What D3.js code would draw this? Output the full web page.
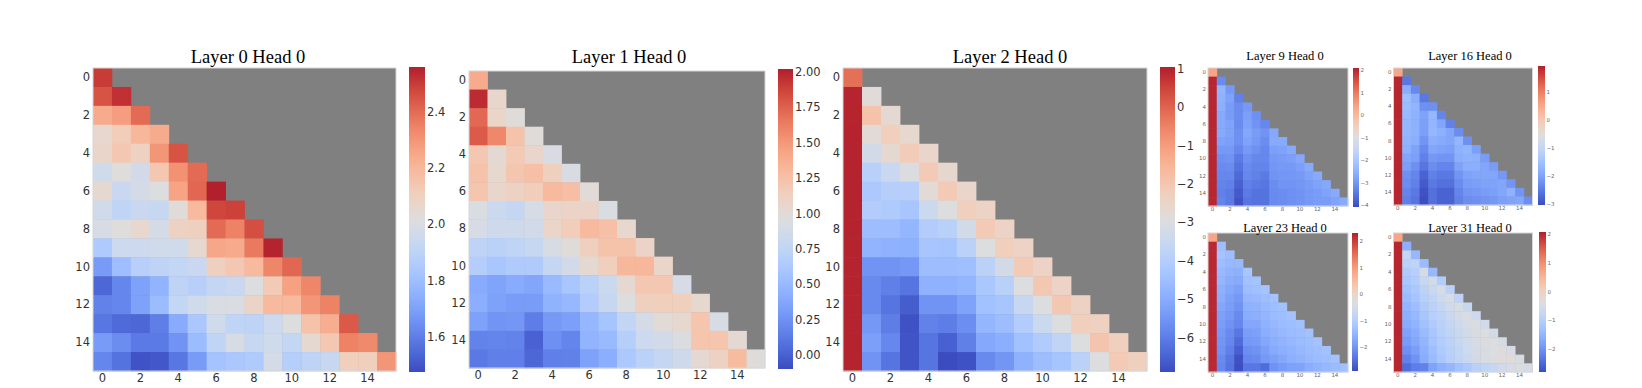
<!DOCTYPE html>
<html>
<head>
<meta charset="utf-8">
<script src="https://cdn.jsdelivr.net/npm/d3@7"></script>
<style>
  body { margin: 0; background: #fff; }
  svg { display: block; }
</style>
</head>
<body>
<div id="chart"></div>
<script>
// lower-triangle attention values, one row per query position
const layer0 = [
  [2.50],
  [2.45, 2.52],
  [2.24, 2.28, 2.40],
  [2.06, 2.12, 2.20, 2.24],
  [2.07, 2.14, 2.09, 2.30, 2.45],
  [1.96, 2.02, 1.97, 2.14, 2.31, 2.40],
  [2.05, 1.94, 1.98, 2.01, 2.26, 2.41, 2.56],
  [1.96, 1.91, 1.94, 1.93, 2.03, 2.19, 2.48, 2.49],
  [1.99, 2.02, 2.06, 1.98, 2.09, 2.10, 2.40, 2.35, 2.46],
  [1.85, 1.95, 1.95, 1.96, 1.96, 2.05, 2.25, 2.24, 2.37, 2.55],
  [1.68, 1.80, 1.88, 1.90, 1.92, 1.94, 2.10, 2.14, 2.19, 2.34, 2.41],
  [1.54, 1.62, 1.70, 1.76, 1.90, 1.88, 1.92, 1.94, 2.01, 2.13, 2.27, 2.34],
  [1.61, 1.62, 1.70, 1.79, 1.92, 1.96, 2.00, 2.00, 2.08, 2.19, 2.19, 2.30, 2.35],
  [1.58, 1.55, 1.54, 1.60, 1.73, 1.84, 1.96, 1.91, 1.90, 1.95, 2.01, 2.16, 2.23, 2.44],
  [1.68, 1.64, 1.59, 1.59, 1.66, 1.79, 1.91, 1.99, 1.93, 1.96, 1.92, 2.05, 2.14, 2.35, 2.33],
  [1.62, 1.57, 1.49, 1.50, 1.58, 1.68, 1.82, 1.84, 1.85, 1.98, 1.87, 1.90, 1.93, 2.11, 2.11, 2.30]
];
const layer1 = [
  [1.40],
  [1.97, 1.05],
  [1.72, 1.07, 0.98],
  [1.78, 1.58, 1.24, 0.98],
  [1.20, 1.02, 1.18, 1.06, 0.92],
  [1.24, 1.04, 1.21, 1.26, 1.13, 0.92],
  [1.22, 1.05, 1.10, 1.15, 1.30, 1.27, 1.00],
  [0.93, 0.82, 0.78, 0.90, 1.05, 1.08, 1.08, 0.93],
  [0.90, 0.84, 0.84, 0.87, 1.07, 1.16, 1.30, 1.26, 1.04],
  [0.74, 0.71, 0.75, 0.79, 0.91, 0.98, 1.13, 1.24, 1.24, 1.08],
  [0.67, 0.60, 0.64, 0.64, 0.78, 0.87, 1.03, 1.14, 1.32, 1.32, 1.07],
  [0.40, 0.36, 0.40, 0.37, 0.50, 0.60, 0.71, 0.82, 1.03, 1.20, 1.20, 0.90],
  [0.42, 0.34, 0.31, 0.31, 0.45, 0.49, 0.66, 0.80, 0.95, 1.13, 1.14, 1.14, 1.04],
  [0.34, 0.27, 0.28, 0.14, 0.29, 0.33, 0.48, 0.58, 0.76, 0.89, 1.00, 1.04, 1.22, 0.91],
  [0.17, 0.18, 0.17, 0.00, 0.24, 0.18, 0.46, 0.50, 0.68, 0.83, 0.87, 0.94, 1.22, 1.22, 1.02],
  [0.12, 0.15, 0.15, 0.03, 0.15, 0.16, 0.34, 0.42, 0.62, 0.71, 0.78, 0.84, 1.02, 1.10, 1.29, 0.98]
];
const layer2 = [
  [-0.2],
  [0.95, -2.85],
  [0.96, -1.9, -2.7],
  [0.97, -2.78, -2.25, -2.65],
  [0.97, -3.25, -2.68, -2.15, -2.55],
  [0.97, -3.9, -3.5, -3.0, -2.1, -2.6],
  [0.97, -4.2, -4.0, -3.95, -2.8, -2.1, -2.55],
  [0.97, -4.05, -4.15, -4.3, -3.45, -2.95, -2.25, -2.45],
  [0.97, -4.55, -4.55, -4.75, -4.05, -3.9, -3.25, -2.1, -2.45],
  [0.97, -4.8, -4.85, -4.9, -4.3, -4.35, -3.85, -2.95, -2.25, -2.45],
  [0.97, -5.55, -5.55, -5.45, -4.55, -4.55, -4.5, -3.85, -3.25, -2.1, -2.45],
  [0.97, -5.75, -5.95, -6.15, -4.85, -4.85, -4.75, -4.25, -3.9, -2.95, -2.05, -2.45],
  [0.97, -5.75, -6.15, -6.6, -5.55, -5.55, -5.2, -4.45, -4.3, -3.55, -2.95, -2.05, -2.4],
  [0.97, -5.45, -6.0, -6.8, -5.9, -6.0, -5.65, -4.75, -4.55, -4.05, -3.45, -2.95, -2.25, -2.35],
  [0.97, -5.3, -5.8, -6.75, -6.15, -6.55, -5.95, -5.1, -4.95, -4.45, -4.1, -3.7, -2.95, -1.95, -2.3],
  [0.97, -5.55, -6.15, -6.75, -6.15, -6.9, -6.8, -5.75, -5.5, -4.85, -4.55, -4.35, -3.85, -2.95, -2.1, -2.3]
];
const layer9 = [
  [0.36],
  [2.0, -3.2],
  [2.0, -2.45, -2.95],
  [2.0, -2.5, -2.8, -3.35],
  [2.0, -2.55, -2.9, -3.15, -2.95],
  [2.0, -2.65, -2.9, -3.15, -2.85, -3.1],
  [2.0, -2.65, -2.8, -3.2, -2.8, -3.05, -3.25],
  [2.0, -2.65, -2.8, -3.1, -2.7, -2.9, -3.05, -2.7],
  [2.0, -2.8, -2.85, -3.1, -2.8, -2.95, -3.15, -2.65, -2.65],
  [2.0, -2.95, -2.95, -3.25, -2.95, -3.1, -3.25, -2.85, -2.8, -2.65],
  [2.0, -3.1, -3.05, -3.45, -3.1, -3.25, -3.25, -2.95, -2.9, -2.85, -2.7],
  [2.0, -3.2, -3.15, -3.55, -3.2, -3.3, -3.3, -3.0, -2.95, -2.95, -2.85, -2.65],
  [2.0, -3.25, -3.25, -3.7, -3.25, -3.35, -3.45, -3.05, -3.0, -3.0, -2.95, -2.8, -2.65],
  [2.0, -3.3, -3.35, -3.8, -3.35, -3.45, -3.5, -3.15, -3.05, -3.05, -3.0, -2.9, -2.8, -2.7],
  [2.0, -3.35, -3.45, -3.9, -3.45, -3.55, -3.55, -3.2, -3.15, -3.1, -3.05, -2.95, -2.9, -2.8, -2.65],
  [2.0, -3.3, -3.45, -4.0, -3.5, -3.55, -3.55, -3.2, -3.15, -3.1, -3.05, -2.95, -2.9, -2.9, -2.8, -2.65]
];
const layer16 = [
  [0.5],
  [1.85, -2.56],
  [1.85, -1.86, -2.36],
  [1.85, -1.56, -1.86, -2.56],
  [1.85, -1.6, -1.75, -2.25, -2.25],
  [1.85, -1.65, -1.78, -2.0, -1.7, -2.4],
  [1.85, -1.7, -1.8, -2.05, -1.72, -1.95, -2.45],
  [1.85, -1.7, -1.78, -2.05, -1.7, -1.8, -1.95, -2.3],
  [1.85, -1.75, -1.85, -2.2, -1.85, -1.9, -1.95, -1.72, -2.25],
  [1.85, -1.8, -2.0, -2.35, -1.95, -2.0, -2.05, -1.78, -1.72, -2.05],
  [1.85, -1.95, -2.05, -2.45, -2.15, -2.2, -2.2, -1.85, -1.78, -1.8, -2.1],
  [1.85, -2.05, -2.25, -2.6, -2.3, -2.4, -2.4, -2.0, -1.85, -1.85, -1.95, -2.1],
  [1.85, -2.25, -2.4, -2.8, -2.45, -2.55, -2.55, -2.2, -2.0, -1.95, -1.95, -1.95, -2.15],
  [1.85, -2.3, -2.45, -2.9, -2.55, -2.65, -2.65, -2.3, -2.1, -2.05, -2.0, -2.0, -1.95, -2.2],
  [1.85, -2.4, -2.55, -3.0, -2.65, -2.8, -2.8, -2.4, -2.2, -2.15, -2.1, -2.05, -1.95, -1.78, -2.2],
  [1.85, -2.45, -2.6, -3.05, -2.65, -2.8, -2.8, -2.45, -2.3, -2.25, -2.2, -2.15, -2.05, -2.0, -1.95, -2.3]
];
const layer23 = [
  [0.85],
  [2.2, -1.35],
  [2.2, -1.25, -1.35],
  [2.2, -1.35, -1.45, -1.45],
  [2.2, -1.45, -1.55, -1.6, -1.22],
  [2.2, -1.5, -1.65, -1.7, -1.3, -1.25],
  [2.2, -1.6, -1.75, -1.85, -1.38, -1.33, -1.25],
  [2.2, -1.65, -1.85, -1.95, -1.48, -1.45, -1.38, -1.28],
  [2.2, -1.75, -1.9, -2.05, -1.57, -1.55, -1.45, -1.35, -1.3],
  [2.2, -1.85, -1.95, -2.15, -1.65, -1.62, -1.5, -1.4, -1.35, -1.28],
  [2.2, -1.9, -2.05, -2.2, -1.75, -1.75, -1.57, -1.47, -1.4, -1.35, -1.3],
  [2.2, -1.95, -2.15, -2.4, -1.9, -1.85, -1.65, -1.55, -1.47, -1.4, -1.35, -1.3],
  [2.2, -2.0, -2.2, -2.55, -1.95, -1.92, -1.75, -1.62, -1.55, -1.47, -1.4, -1.35, -1.28],
  [2.2, -2.05, -2.3, -2.7, -2.1, -2.05, -1.88, -1.7, -1.62, -1.55, -1.47, -1.4, -1.35, -1.28],
  [2.2, -2.15, -2.4, -2.85, -2.2, -2.15, -1.95, -1.85, -1.75, -1.62, -1.55, -1.47, -1.4, -1.35, -1.28],
  [2.2, -2.2, -2.45, -2.9, -2.4, -2.4, -2.55, -2.05, -1.92, -1.85, -1.8, -1.65, -1.55, -1.47, -1.4, -1.33]
];
const layer31 = [
  [0.7],
  [2.0, -1.6],
  [2.0, -0.8, -1.45],
  [2.0, -0.95, -0.85, -1.4],
  [2.0, -1.1, -1.0, -0.55, -1.45],
  [2.0, -1.2, -1.05, -0.75, -0.6, -1.05],
  [2.0, -1.3, -1.15, -0.9, -0.7, -0.5, -0.95],
  [2.0, -1.4, -1.25, -1.0, -0.85, -0.65, -0.5, -0.88],
  [2.0, -1.5, -1.35, -1.1, -0.95, -0.78, -0.6, -0.48, -0.75],
  [2.0, -1.58, -1.45, -1.2, -1.0, -0.88, -0.7, -0.55, -0.45, -0.68],
  [2.0, -1.65, -1.52, -1.3, -1.1, -0.95, -0.78, -0.65, -0.5, -0.42, -0.6],
  [2.0, -1.78, -1.65, -1.4, -1.2, -1.0, -0.86, -0.7, -0.57, -0.48, -0.38, -0.57],
  [2.0, -1.88, -1.72, -1.5, -1.25, -1.05, -0.92, -0.76, -0.6, -0.5, -0.42, -0.38, -0.53],
  [2.0, -2.02, -1.85, -1.58, -1.35, -1.12, -0.97, -0.82, -0.65, -0.53, -0.46, -0.38, -0.35, -0.5],
  [2.0, -2.2, -2.0, -1.65, -1.4, -1.2, -1.0, -0.86, -0.7, -0.57, -0.48, -0.42, -0.35, -0.32, -0.48],
  [2.0, -2.45, -2.25, -2.2, -1.78, -1.6, -1.48, -1.3, -1.15, -0.97, -0.86, -0.75, -0.6, -0.5, -0.42, -0.53]
];

const titles = ["Layer 0 Head 0", "Layer 1 Head 0", "Layer 2 Head 0",
  "Layer 9 Head 0", "Layer 16 Head 0", "Layer 23 Head 0", "Layer 31 Head 0"];
const matrices = [layer0, layer1, layer2, layer9, layer16, layer23, layer31];
const colorRanges = [[1.474, 2.56], [-0.1, 2.02], [-6.9, 1.04],
  [-4.1, 2.09], [-3.06, 1.92], [-2.92, 2.31], [-2.81, 2.07]];
const cbTicks = [
  [1.6, 1.8, 2.0, 2.2, 2.4],
  [0, 0.25, 0.5, 0.75, 1.0, 1.25, 1.5, 1.75, 2.0],
  [-6, -5, -4, -3, -2, -1, 0, 1],
  [-4, -3, -2, -1, 0, 1, 2],
  [-3, -2, -1, 0, 1],
  [-2, -1, 0, 1, 2],
  [-2, -1, 0, 1, 2]
];
const cbFormats = [".1f", ".2f", "d", "d", "d", "d", "d"];
const axisTicks = [0, 2, 4, 6, 8, 10, 12, 14];

// coolwarm control colours (red end slightly muted like the source image)
const coolwarm = ["#3b4cc0","#445acc","#4d68d7","#5775e1","#6282ea","#6c8ef1","#779af7","#82a5fb",
  "#8db0fe","#98b9ff","#a3c2ff","#aec9fd","#b8d0f9","#c2d5f4","#ccd9ee","#d5dbe6","#dddddd",
  "#e5d8d1","#ecd3c5","#f1cdba","#f5c4ad","#f7bba0","#f7b194","#f7a687","#f49a7b","#f18d6f",
  "#ec7f63","#e57058","#de604d","#d55042","#cb4039","#bf2e33","#b1202c"];
const cw = d3.scaleLinear()
  .domain(coolwarm.map((c, i) => i / (coolwarm.length - 1)))
  .range(coolwarm)
  .interpolate(d3.interpolateRgb)
  .clamp(true);

// x,y,w,h heatmap; cx,cy,cw,ch colourbar; tx,ty title
const layout = [
  {x: 93, y: 68, w: 303, h: 303, cx: 409, cy: 67, cw: 16, ch: 305, tx: 248, ty: 63, big: true},
  {x: 469, y: 71, w: 296, h: 297, cx: 778, cy: 69, cw: 15, ch: 300, tx: 629, ty: 63, big: true},
  {x: 843, y: 68, w: 304, h: 303, cx: 1160, cy: 67, cw: 15, ch: 305, tx: 1010, ty: 63, big: true},
  {x: 1208, y: 68, w: 140, h: 138, cx: 1353, cy: 68, cw: 6, ch: 139, tx: 1285, ty: 59.5, big: false},
  {x: 1393.5, y: 68, w: 139, h: 137, cx: 1538, cy: 66, cw: 7, ch: 139, tx: 1470, ty: 59.5, big: false},
  {x: 1208, y: 233, w: 140, h: 139, cx: 1352, cy: 233, cw: 6, ch: 138, tx: 1285, ty: 231.5, big: false},
  {x: 1393.5, y: 233, w: 139, h: 139, cx: 1539, cy: 232, cw: 7, ch: 140, tx: 1470, ty: 231.5, big: false}
];

const svg = d3.select("#chart").append("svg")
  .attr("width", 1642)
  .attr("height", 388);

const defs = svg.append("defs");
const grad = defs.append("linearGradient")
  .attr("id", "cw-grad")
  .attr("x1", 0).attr("y1", 1).attr("x2", 0).attr("y2", 0);
coolwarm.forEach((c, i) => {
  grad.append("stop").attr("offset", i / (coolwarm.length - 1)).attr("stop-color", c);
});

matrices.forEach((rows, k) => {
  const L = layout[k];
  const [lo, hi] = colorRanges[k];
  const color = v => cw((v - lo) / (hi - lo));
  const g = svg.append("g");
  const n = rows.length;

  const x = d3.scaleBand().domain(d3.range(n)).range([L.x, L.x + L.w]);
  const y = d3.scaleBand().domain(d3.range(n)).range([L.y, L.y + L.h]);

  // masked (upper) part
  g.append("rect")
    .attr("x", L.x).attr("y", L.y)
    .attr("width", L.w).attr("height", L.h)
    .attr("fill", "#808080");

  const cells = [];
  rows.forEach((row, i) => row.forEach((v, j) => cells.push({i, j, v})));

  g.selectAll("rect.cell")
    .data(cells)
    .join("rect")
    .attr("class", "cell")
    .attr("x", d => x(d.j))
    .attr("y", d => y(d.i))
    .attr("width", x.bandwidth() + 0.4)
    .attr("height", y.bandwidth() + 0.4)
    .attr("fill", d => color(d.v));

  g.append("rect")
    .attr("x", L.x).attr("y", L.y)
    .attr("width", L.w).attr("height", L.h)
    .attr("fill", "none")
    .attr("stroke", "#d6d6d6")
    .attr("stroke-width", 1);

  const fs = L.big ? 11.5 : 5.5;
  const tickCol = L.big ? "#333" : "#666";

  const yAxis = g.append("g")
    .attr("transform", `translate(${L.x},0)`)
    .call(d3.axisLeft(y).tickValues(axisTicks).tickSize(0).tickPadding(L.big ? 3 : 2));
  const xAxis = g.append("g")
    .attr("transform", `translate(0,${L.y + L.h})`)
    .call(d3.axisBottom(x).tickValues(axisTicks).tickSize(0).tickPadding(L.big ? 3 : 1.5));

  // colourbar
  const cbY = d3.scaleLinear().domain([lo, hi]).range([L.cy + L.ch, L.cy]);
  g.append("rect")
    .attr("x", L.cx).attr("y", L.cy)
    .attr("width", L.cw).attr("height", L.ch)
    .attr("fill", "url(#cw-grad)");
  const cbAxis = g.append("g")
    .attr("transform", `translate(${L.cx + L.cw},0)`)
    .call(d3.axisRight(cbY).tickValues(cbTicks[k])
      .tickFormat(d3.format(cbFormats[k])).tickSize(0).tickPadding(L.big ? 2 : 1.5));

  [yAxis, xAxis, cbAxis].forEach(a => {
    a.select(".domain").remove();
    a.selectAll("text")
      .attr("font-family", "DejaVu Sans")
      .attr("font-size", fs)
      .attr("fill", tickCol);
  });

  g.append("text")
    .attr("x", L.tx)
    .attr("y", L.ty)
    .attr("text-anchor", "middle")
    .attr("font-family", "Liberation Serif")
    .attr("font-size", L.big ? 18.5 : 12.5)
    .attr("fill", "#000")
    .text(titles[k]);
});
</script>
</body>
</html>
